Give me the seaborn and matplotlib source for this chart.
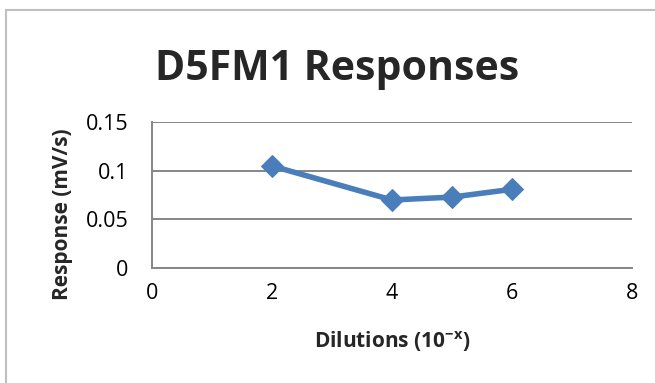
import seaborn as sns
import matplotlib.pyplot as plt
import matplotlib.patches as patches
import pandas as pd

# data
dilutions = [2, 4, 5, 6]
responses = [0.105, 0.070, 0.073, 0.081]
x_ticks = [0, 2, 4, 6, 8]
y_ticks = [0, 0.05, 0.1, 0.15]
y_labels = ["0", "0.05", "0.1", "0.15"]

df = pd.DataFrame({"dilution": dilutions, "response": responses})

sns.set_style("white")
plt.rcParams["font.family"] = ["Open Sans", "DejaVu Sans"]
plt.rcParams["mathtext.fontset"] = "custom"
plt.rcParams["mathtext.rm"] = "Open Sans"
plt.rcParams["mathtext.bf"] = "Open Sans:bold"

fig = plt.figure(figsize=(6.55, 3.83), dpi=100)
ax = fig.add_axes([0.232, 0.300, 0.733, 0.381])

sns.lineplot(data=df, x="dilution", y="response", ax=ax, color="#4a7ebb",
             linewidth=4, marker="D", markersize=11, markeredgecolor="#4a7ebb")

ax.set_xlim(0, 8)
ax.set_ylim(0, 0.15)
ax.set_xticks(x_ticks)
ax.set_yticks(y_ticks)
ax.set_yticklabels(y_labels)
ax.tick_params(axis="both", labelsize=15.5, colors="#868686", labelcolor="black",
               direction="out", length=6, width=1.3)
ax.tick_params(axis="y", pad=11)
ax.tick_params(axis="x", pad=5)

ax.grid(axis="y", color="#868686", linewidth=1.4)
ax.set_axisbelow(True)
for side in ["top", "right"]:
    ax.spines[side].set_visible(False)
for side in ["left", "bottom"]:
    ax.spines[side].set_color("#868686")
    ax.spines[side].set_linewidth(1.4)

ax.set_xlabel(r"Dilutions (10$^{\mathbf{-x}}$)", fontsize=15, fontweight="bold")
ax.set_ylabel("Response (mV/s)", fontsize=15, fontweight="bold")
ax.xaxis.set_label_coords(0.5, -0.42)
ax.yaxis.set_label_coords(-0.165, 0.37)

fig.text(0.515, 0.791, "D5FM1 Responses", ha="center", va="baseline",
         fontsize=29.5, fontweight="bold")

# outer chart border
fig.patches.append(patches.Rectangle((0.009, -0.05), 1.1, 1.024, transform=fig.transFigure,
                                     fill=False, edgecolor="#bfbfbf", linewidth=1.5))

fig.savefig("out.png", dpi=100)
